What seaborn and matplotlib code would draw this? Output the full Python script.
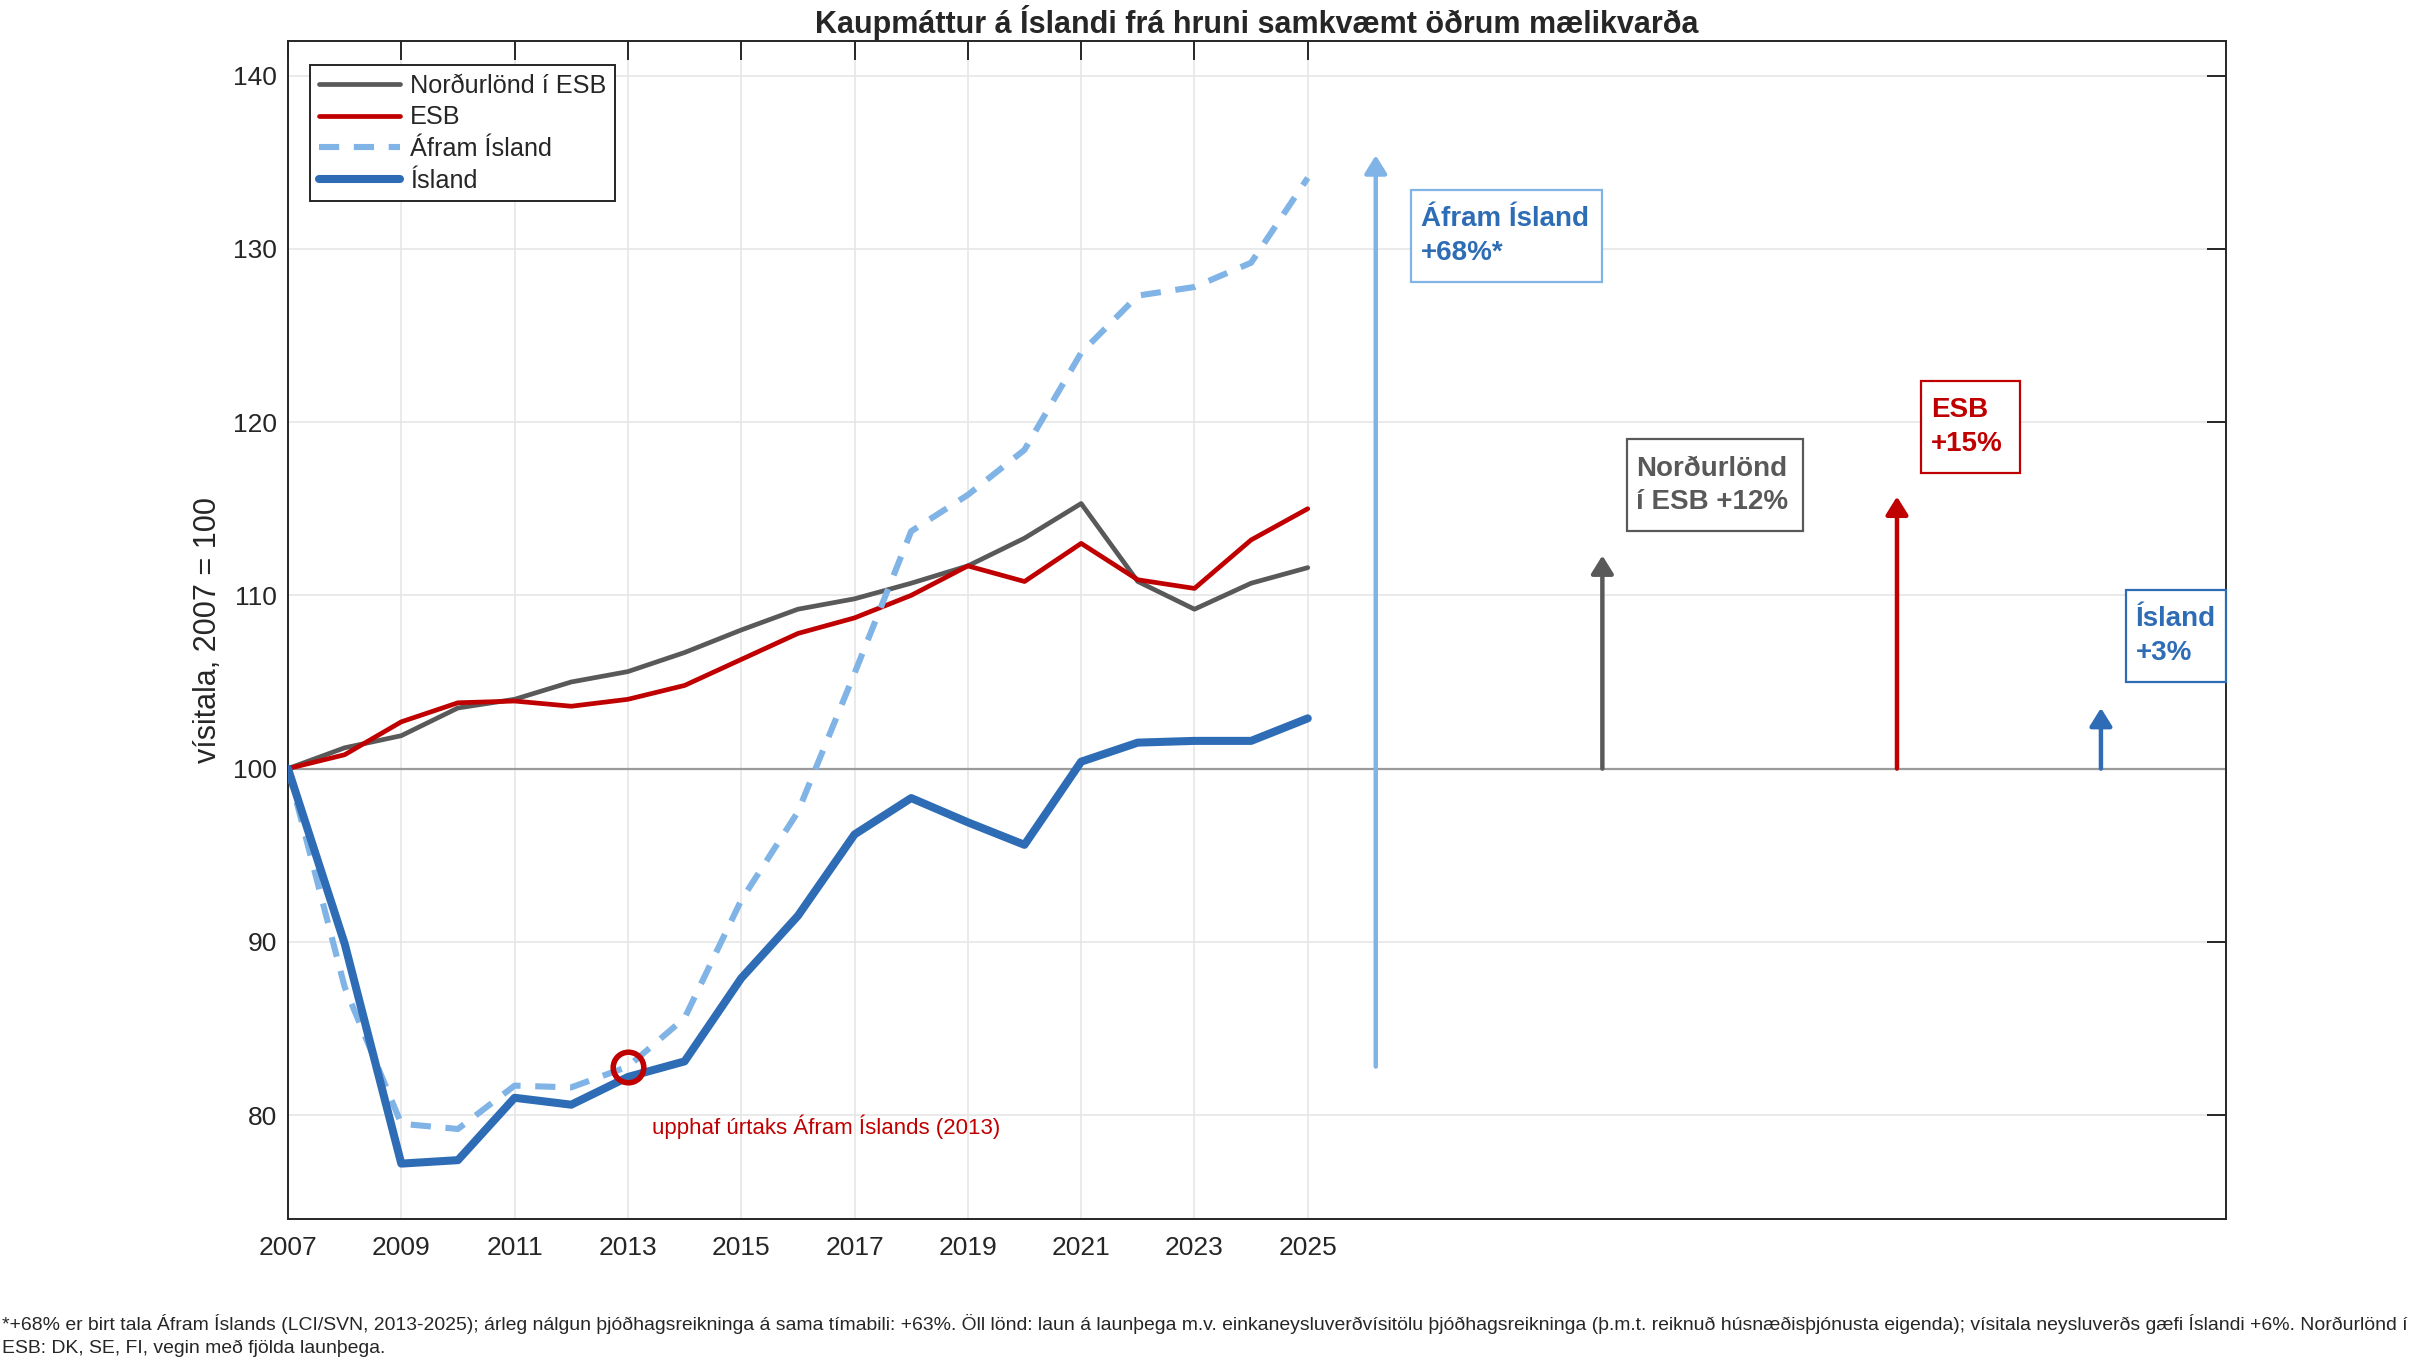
#Recreate the purchasing power chart (Kaupmáttur á Íslandi frá hruni)
#lines drawn with seaborn, arrows and boxes added with matplotlib

import pandas as pd
import matplotlib
matplotlib.use("Agg")
from matplotlib import pyplot as plt
from matplotlib.patches import Rectangle
import seaborn as sns

# data
years = list(range(2007, 2026))
nordurlond = [100.0, 101.2, 101.9, 103.5, 104.0, 105.0, 105.6, 106.7, 108.0, 109.2,
              109.8, 110.7, 111.7, 113.3, 115.3, 110.8, 109.2, 110.7, 111.6]
esb = [100.0, 100.8, 102.7, 103.8, 103.9, 103.6, 104.0, 104.8, 106.3, 107.8,
       108.7, 110.0, 111.7, 110.8, 113.0, 110.9, 110.4, 113.2, 115.0]
afram = [100.0, 87.4, 79.5, 79.2, 81.7, 81.6, 82.8, 85.6, 92.4, 97.5,
         105.5, 113.7, 115.8, 118.4, 124.0, 127.3, 127.8, 129.2, 134.1]
island = [100.0, 89.9, 77.2, 77.4, 81.0, 80.6, 82.2, 83.1, 87.9, 91.5,
          96.2, 98.3, 96.9, 95.6, 100.4, 101.5, 101.6, 101.6, 102.9]

series_names = ['Norðurlönd í ESB', 'ESB', 'Áfram Ísland', 'Ísland']

# summary arrows (x position, base, tip) and their labelled boxes
arrow_x = [2026.2, 2030.2, 2035.4, 2039.0]
arrow_base = [82.8, 100.0, 100.0, 100.0]
arrow_tip = [135.4, 112.3, 115.7, 103.5]
box_text = ['Áfram Ísland\n+68%*', 'Norðurlönd\ní ESB +12%', 'ESB\n+15%', 'Ísland\n+3%']
box_left = [2026.82, 2030.63, 2035.83, 2039.44]
box_right = [2030.2, 2033.74, 2037.57, 2041.2]
box_top = [133.4, 119.0, 122.4, 110.3]
box_bottom = [128.1, 113.7, 117.05, 105.0]

start_year = 2013
start_value = 82.8

xticks = list(range(2007, 2026, 2))
yticks = [80, 90, 100, 110, 120, 130, 140]

footnote = ("*+68% er birt tala Áfram Íslands (LCI/SVN, 2013-2025); árleg nálgun þjóðhagsreikninga á sama tímabili: +63%. "
            "Öll lönd: laun á launþega m.v. einkaneysluverðvísitölu þjóðhagsreikninga (þ.m.t. reiknuð húsnæðisþjónusta eigenda); "
            "vísitala neysluverðs gæfi Íslandi +6%. Norðurlönd í\nESB: DK, SE, FI, vegin með fjölda launþega.")

# colours
c_grey = '#595959'
c_red = '#c00000'
c_light = '#80b3e6'
c_blue = '#2e6db5'
colors = [c_grey, c_red, c_light, c_blue]

sns.set_style('white')
plt.rcParams['font.family'] = ['Liberation Sans', 'DejaVu Sans']

df = pd.DataFrame({'year': years, series_names[0]: nordurlond, series_names[1]: esb,
                   series_names[2]: afram, series_names[3]: island})

fig = plt.figure(figsize=(12.11, 6.805), dpi=200)
ax = fig.add_axes([0.1189, 0.1043, 0.8, 0.8656])

widths = [1.7, 1.7, 2.2, 2.9]
styles = ['-', '-', '--', '-']
for name, c, lw, ls in zip(series_names, colors, widths, styles):
    sns.lineplot(data=df, x='year', y=name, color=c, linewidth=lw, linestyle=ls,
                 label=name, ax=ax, zorder=3)
    if ls == '--':
        ax.lines[-1].set_dashes((3.3, 2.4))

ax.axhline(100, color='#9a9a9a', linewidth=0.8, zorder=2)

# start-of-sample marker
ax.plot([start_year], [start_value], marker='o', ms=11, mfc='none', mec=c_red, mew=2,
        linestyle='none', zorder=5)
ax.text(start_year + 0.43, 79.3, 'upphaf úrtaks Áfram Íslands (2013)', color=c_red,
        fontsize=8, ha='left', va='center')

# arrows and boxes
arrow_colors = [c_light, c_grey, c_red, c_blue]
text_colors = [c_blue, c_grey, c_red, c_blue]
edge_colors = [c_light, c_grey, c_red, c_blue]
for x, b, t, c in zip(arrow_x, arrow_base, arrow_tip, arrow_colors):
    ax.annotate('', xy=(x, t), xytext=(x, b),
                arrowprops=dict(arrowstyle='-|>,head_length=0.45,head_width=0.28', color=c,
                                lw=1.6, shrinkA=0, shrinkB=0, mutation_scale=12), zorder=4)
for s, l, r, t, b, tc, ec in zip(box_text, box_left, box_right, box_top, box_bottom,
                                 text_colors, edge_colors):
    ax.add_patch(Rectangle((l, b), r - l, t - b, facecolor='white', edgecolor=ec,
                           linewidth=0.8, clip_on=False, zorder=6))
    ax.text(l + 0.17, (t + b) / 2, s, ha='left', va='center', fontsize=10,
            fontweight='bold', color=tc, linespacing=1.37, zorder=7)

ax.set_xlim(2007, 2041.2)
ax.set_ylim(74, 142)
ax.set_xticks(xticks)
ax.set_yticks(yticks)
ax.grid(True, color='#e6e6e6', linewidth=0.6, zorder=0)
ax.set_axisbelow(True)
ax.tick_params(direction='in', length=7, width=0.7, color='#262626', labelsize=9.5,
               labelcolor='#262626', top=True, right=True, pad=4)
ax.tick_params(axis='x', pad=6.2)
for sp in ax.spines.values():
    sp.set_color('#262626')
    sp.set_linewidth(0.7)

ax.set_xlabel('')
ax.set_ylabel('vísitala, 2007 = 100', fontsize=11, color='#262626', labelpad=3.5)
ax.set_title('Kaupmáttur á Íslandi frá hruni samkvæmt öðrum mælikvarða', fontsize=11,
             fontweight='bold', pad=3)

leg = ax.legend(loc='upper left', bbox_to_anchor=(0.01135, 0.9796), borderaxespad=0,
                fontsize=9.1, frameon=True, fancybox=False, framealpha=1,
                edgecolor='#262626', handlelength=3.2, handletextpad=0.4,
                labelspacing=0.3, borderpad=0.35)
leg.get_frame().set_linewidth(0.7)

fig.text(0.001, 0.0345, footnote, fontsize=6.97, color='#262626', ha='left', va='top',
         linespacing=1.4)

fig.savefig('out.png', dpi=200)
